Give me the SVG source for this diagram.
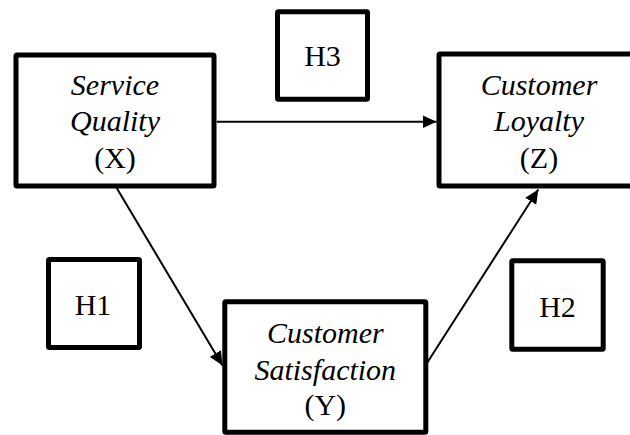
<svg xmlns="http://www.w3.org/2000/svg" width="630" height="435" viewBox="0 0 630 435">
  <style>
    .box { fill: #ffffff; stroke: #000000; stroke-width: 5; stroke-linejoin: round; }
    .lbl { font-size: 30px; fill: #000000; text-anchor: middle; }
    .it { font-style: italic; }
    .conn { stroke: #000000; stroke-width: 2; fill: none; }
  </style>
  <defs>
    <marker id="arrow" markerUnits="userSpaceOnUse" markerWidth="14" markerHeight="13" refX="14" refY="6.5" orient="auto">
      <path d="M0,0 L14,6.5 L0,13 z" fill="#000000"/>
    </marker>
  </defs>
  <rect width="630" height="435" fill="#ffffff"/>
  <g id="connectors">
    <line class="conn" x1="216.7" y1="121.7" x2="436.5" y2="121.7" marker-end="url(#arrow)"/>
    <line class="conn" x1="116.7" y1="188" x2="222.5" y2="365.5" marker-end="url(#arrow)"/>
    <line class="conn" x1="427" y1="363" x2="538.3" y2="189.5" marker-end="url(#arrow)"/>
  </g>
  <g font-family="'Liberation Serif', serif">
  <g id="service-quality">
    <rect class="box" x="16" y="55" width="198" height="131" rx="1"/>
    <text class="lbl it" x="115" y="95">Service</text>
    <text class="lbl it" x="115" y="131">Quality</text>
    <text class="lbl" x="115" y="168">(X)</text>
  </g>
  <g id="h3">
    <rect class="box" x="277.5" y="11.8" width="90" height="87.5" rx="1"/>
    <text class="lbl" x="322.5" y="66">H3</text>
  </g>
  <g id="customer-loyalty">
    <rect class="box" x="439" y="54" width="205" height="132" rx="1"/>
    <text class="lbl it" x="539" y="95">Customer</text>
    <text class="lbl it" x="539" y="131">Loyalty</text>
    <text class="lbl" x="539" y="168">(Z)</text>
  </g>
  <g id="h1">
    <rect class="box" x="48.5" y="259.5" width="91" height="88" rx="1"/>
    <text class="lbl" x="93" y="315">H1</text>
  </g>
  <g id="customer-satisfaction">
    <rect class="box" x="224.8" y="301.8" width="201" height="130.5" rx="1"/>
    <text class="lbl it" x="325.3" y="343">Customer</text>
    <text class="lbl it" x="325.3" y="380">Satisfaction</text>
    <text class="lbl" x="325.3" y="415">(Y)</text>
  </g>
  <g id="h2">
    <rect class="box" x="511.8" y="260.8" width="91.4" height="88.4" rx="1"/>
    <text class="lbl" x="557.5" y="316.5">H2</text>
  </g>
  </g>
</svg>
